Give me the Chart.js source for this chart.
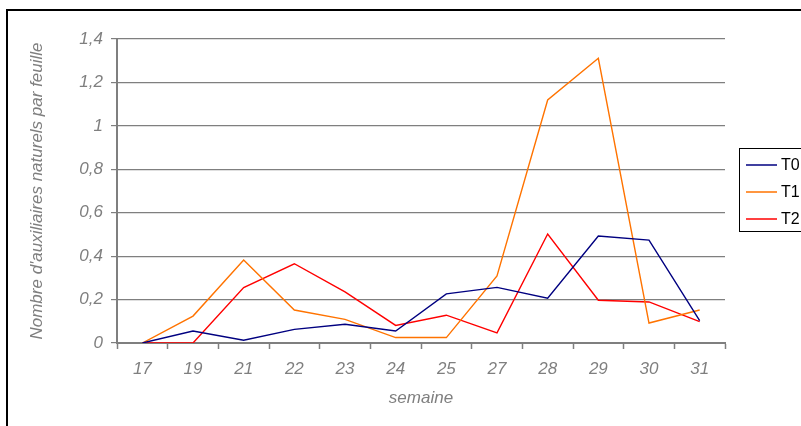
<!DOCTYPE html>
<html>
<head>
<title>Auxiliaires naturels par semaine</title>
<script src="https://cdn.jsdelivr.net/npm/chart.js@4.4.1/dist/chart.umd.min.js"></script>
<style>
  body { margin: 0; background: #fff; }
  #container { width: 801px; height: 426px; }
</style>
</head>
<body>
<div id="container">
  <canvas id="canvas" width="801" height="426"></canvas></div>
<script>

// semaines
var weeks = ['17', '19', '21', '22', '23', '24', '25', '27', '28', '29', '30', '31'];

// values
var t0 = [0, 0.055, 0.013, 0.063, 0.086, 0.055, 0.226, 0.256, 0.206, 0.493, 0.474, 0.103];
var t1 = [0, 0.124, 0.382, 0.152, 0.109, 0.025, 0.025, 0.309, 1.119, 1.311, 0.092, 0.152];
var t2 = [0, 0, 0.255, 0.365, 0.235, 0.081, 0.128, 0.047, 0.502, 0.197, 0.189, 0.098];

var seriesNames = ['T0', 'T1', 'T2'];
var seriesColors = ['#000080', '#ff7300', '#ff0000'];

var yTitle = "Nombre d'auxiliaires naturels par feuille";
var xTitle = 'semaine';

var grey = '#7f7f7f';
var tickFont = { family: "'Liberation Sans', Arial, sans-serif", size: 17, style: 'italic' };
var titleFont = { family: "'Liberation Sans', Arial, sans-serif", size: 17, style: 'italic' };

// frame round the whole chart + legend box on the right
var decorations = {
  id: 'decorations',
  afterDraw: function(chart) {
    var ctx = chart.ctx;
    ctx.save();
    ctx.strokeStyle = '#000';
    ctx.lineWidth = 2;
    ctx.strokeRect(7, 10, 810, 430);

    // legend
    ctx.lineWidth = 1;
    ctx.fillStyle = '#fff';
    ctx.fillRect(739.5, 148.5, 80, 83);
    ctx.strokeRect(739.5, 148.5, 80, 83);
    ctx.font = "16px 'Liberation Sans', Arial, sans-serif";
    ctx.textBaseline = 'middle';
    chart.data.datasets.forEach(function(ds, i) {
      var y = 165 + i * 27;
      ctx.strokeStyle = ds.borderColor;
      ctx.lineWidth = 1.5;
      ctx.beginPath();
      ctx.moveTo(746, y);
      ctx.lineTo(777, y);
      ctx.stroke();
      ctx.fillStyle = '#000';
      ctx.fillText(ds.label, 781, y + 1);
    });
    ctx.restore();
  }
};

var ctx = document.getElementById('canvas').getContext('2d');
window.myLine = new Chart(ctx, {
  type: 'line',
  data: {
    labels: weeks,
    datasets: [t0, t1, t2].map(function(values, i) {
      return {
        label: seriesNames[i],
        data: values,
        borderColor: seriesColors[i],
        backgroundColor: seriesColors[i],
        borderWidth: 1.4,
        pointRadius: 0,
        tension: 0,
        fill: false
      };
    })
  },
  options: {
    responsive: false,
    animation: false,
    layout: { padding: { left: 0, top: 39, right: 76, bottom: 0 } },
    plugins: {
      legend: { display: false },
      tooltip: { enabled: false }
    },
    scales: {
      x: {
        offset: true,
        afterFit: function(scale) { scale.height = 83; },
        grid: {
          offset: true,
          drawOnChartArea: false,
          drawTicks: true,
          tickLength: 6,
          tickColor: grey,
          tickWidth: 1.5
        },
        border: { color: grey, width: 2 },
        ticks: { color: grey, font: tickFont, padding: 10, maxRotation: 0, autoSkip: false },
        title: {
          display: true,
          text: xTitle,
          color: grey,
          font: titleFont,
          padding: { top: 0, bottom: 18 }
        }
      },
      y: {
        min: 0,
        max: 1.4,
        afterFit: function(scale) { scale.width = 117; },
        grid: {
          color: grey,
          lineWidth: 1.2,
          tickLength: 6,
          tickColor: grey
        },
        border: { color: grey, width: 2 },
        ticks: {
          stepSize: 0.2,
          color: grey,
          font: tickFont,
          padding: 8,
          callback: function(v) {
            return String(Math.round(v * 10) / 10).replace('.', ',');
          }
        },
        title: {
          display: true,
          text: yTitle,
          color: grey,
          font: titleFont,
          padding: { top: 27, bottom: 0 }
        }
      }
    }
  },
  plugins: [decorations]
});

</script>
</body>
</html>
